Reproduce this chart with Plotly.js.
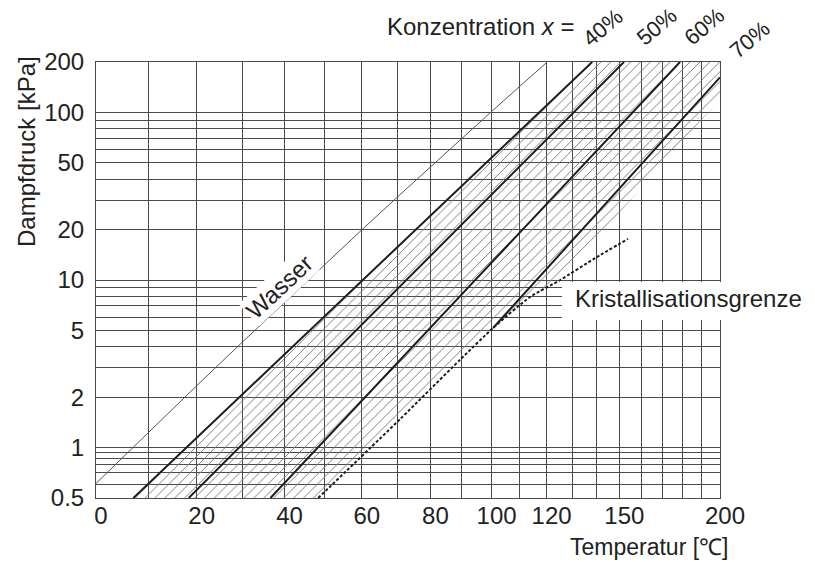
<!DOCTYPE html>
<html>
<head>
<meta charset="utf-8">
<script src="https://cdn.plot.ly/plotly-3.0.1.min.js"></script>
<style>html,body{margin:0;padding:0;background:#fff;}#chart{width:815px;height:562px;}</style>
</head>
<body>
<div id="chart"></div>
<script>
// ---- data ----
// water saturation line
const waterT = [0, 10, 20, 30, 40, 50, 60, 70, 80, 90, 100, 110, 120];
const waterP = [0.611, 1.228, 2.339, 4.246, 7.381, 12.35, 19.93, 31.18, 47.37, 70.12, 101.3, 143.3, 198.5];
// concentration lines (start / end points)
const concLabels = ['40%', '50%', '60%', '70%'];
const concT = [[7.1, 138.3], [18.3, 152.1], [36.6, 178.8], [100.5, 200]];
const concP = [[0.5, 200], [0.5, 200], [0.5, 200], [5.17, 162]];
// crystallisation limit
const crystT = [48.4, 70.9, 89.4, 100.5, 113.8, 125.3, 139.5, 153.9];
const crystP = [0.5, 1.48, 3.34, 5.17, 7.92, 10.0, 13.5, 17.6];
// right-hand border of the hatched field (top right corner -> right edge -> crystallisation line)
const hatchEdgeT = [200, 200, 125.3];
const hatchEdgeP = [200, 119.8, 10.0];
// axis grid / ticks
const gridT = [0,10,20,30,40,50,60,70,80,90,100,110,120,130,140,150,160,170,180,190,200];
const labelT = [0, 20, 40, 60, 80, 100, 120, 150, 200];
const gridP = [0.5,0.6,0.71,0.79,0.86,0.93,1,2,3,4,5,6,7,8,9,10,20,30,40,50,60,70,80,90,100,200];
const labelP = [0.5, 1, 2, 5, 10, 20, 50, 100, 200];

// reciprocal-temperature scale
const u = T => 1000/273.15 - 1000/(T + 273.15);

const FONT = 'Liberation Sans, Arial, sans-serif';
const W = 815, H = 562, ML = 96, MR = 95, MT = 62, MB = 64;
const px = (x, y) => ({x: (x - ML)/(W - ML - MR), y: 1 - (y - MT)/(H - MT - MB)});

const traces = [];

// hatched field: 40% line, top/right edge, crystallisation line
const crystInHatch = crystT.map((t,i)=>[t,crystP[i]]).filter(d => d[0] <= hatchEdgeT[2]).reverse();
const hT = [concT[0][0], concT[0][1]].concat(hatchEdgeT, crystInHatch.map(d=>d[0]), [concT[0][0]]);
const hP = [concP[0][0], concP[0][1]].concat(hatchEdgeP, crystInHatch.map(d=>d[1]), [concP[0][0]]);
traces.push({
  x: hT.map(u), y: hP, mode: 'lines', fill: 'toself',
  line: {width: 0, color: 'rgba(0,0,0,0)'},
  fillcolor: 'rgba(0,0,0,0)',
  fillpattern: {shape: '/', size: 7, solidity: 0.14, fgcolor: '#7c7c7c', bgcolor: 'rgba(0,0,0,0)', fillmode: 'replace'},
  hoverinfo: 'skip'
});

// water
traces.push({x: waterT.map(u), y: waterP, mode: 'lines', line: {color: '#555', width: 1}, name: 'Wasser'});

// concentration lines
concLabels.forEach((c, i) => {
  traces.push({x: concT[i].map(u), y: concP[i], mode: 'lines', line: {color: '#1e1e1e', width: 2}, name: c});
});

// crystallisation limit
traces.push({x: crystT.map(u), y: crystP, mode: 'lines',
  line: {color: '#1e1e1e', width: 2, dash: '3px,2px', shape: 'spline', smoothing: 0.6}, name: 'Kristallisationsgrenze'});

const ann = [];
function addAnn(text, x, y, opts) {
  const p = px(x, y);
  ann.push(Object.assign({text, x: p.x, y: p.y, xref: 'paper', yref: 'paper', showarrow: false,
    font: {family: FONT, size: 24, color: '#222'}, xanchor: 'center', yanchor: 'middle', borderpad: 0}, opts || {}));
}
const small = {family: FONT, size: 22, color: '#222'};
addAnn('Dampfdruck [kPa]', 26, 152, {textangle: -90});
addAnn('Temperatur [℃]', 649, 561, {yanchor: 'bottom', font: {family: FONT, size: 23, color: '#222'}});
addAnn('Konzentration <i>x</i> = ', 582, 27, {xanchor: 'right'});
addAnn('40%', 603, 28, {textangle: -40, font: small});
addAnn('50%', 657, 27, {textangle: -40, font: small});
addAnn('60%', 704, 26, {textangle: -40, font: small});
addAnn('70%', 750, 40, {textangle: -40, font: small});
addAnn('Wasser', 278.5, 287, {textangle: -43, bgcolor: '#fff', borderpad: 1});
addAnn('Kristallisationsgrenze', 574, 298, {xanchor: 'left'});

const b0 = px(562, 282), b1 = px(815, 320);
const shapes = [{type: 'rect', xref: 'paper', yref: 'paper', x0: b0.x, x1: b1.x, y0: b1.y, y1: b0.y,
  fillcolor: '#fff', line: {width: 0}, layer: 'above'}];

const layout = {
  width: W, height: H,
  margin: {l: ML, r: MR, t: MT, b: MB, pad: 0},
  paper_bgcolor: '#fff', plot_bgcolor: '#fff',
  showlegend: false,
  font: {family: FONT, size: 24, color: '#222'},
  xaxis: {
    type: 'linear', range: [u(0), u(200)],
    tickmode: 'array', tickvals: gridT.map(u),
    ticktext: gridT.map(t => labelT.includes(t) ? String(t) : ''),
    showgrid: true, gridcolor: '#4a4a4a', gridwidth: 1,
    showline: true, mirror: true, linecolor: '#4a4a4a', linewidth: 1,
    zeroline: false, ticks: '', ticklabelshift: 5, ticklabelstandoff: -4,
    tickfont: {family: FONT, size: 24, color: '#222'}
  },
  yaxis: {
    type: 'log', range: [Math.log10(0.5), Math.log10(200)],
    tickmode: 'array', tickvals: gridP,
    ticktext: gridP.map(p => labelP.includes(p) ? String(p) : ''),
    showgrid: true, gridcolor: '#4a4a4a', gridwidth: 1,
    showline: true, mirror: true, linecolor: '#4a4a4a', linewidth: 1,
    zeroline: false, ticks: '', ticklabelstandoff: 6,
    tickfont: {family: FONT, size: 24, color: '#222'}
  },
  annotations: ann,
  shapes: shapes
};

Plotly.newPlot('chart', traces, layout, {displayModeBar: false, staticPlot: true});
</script>
</body>
</html>
